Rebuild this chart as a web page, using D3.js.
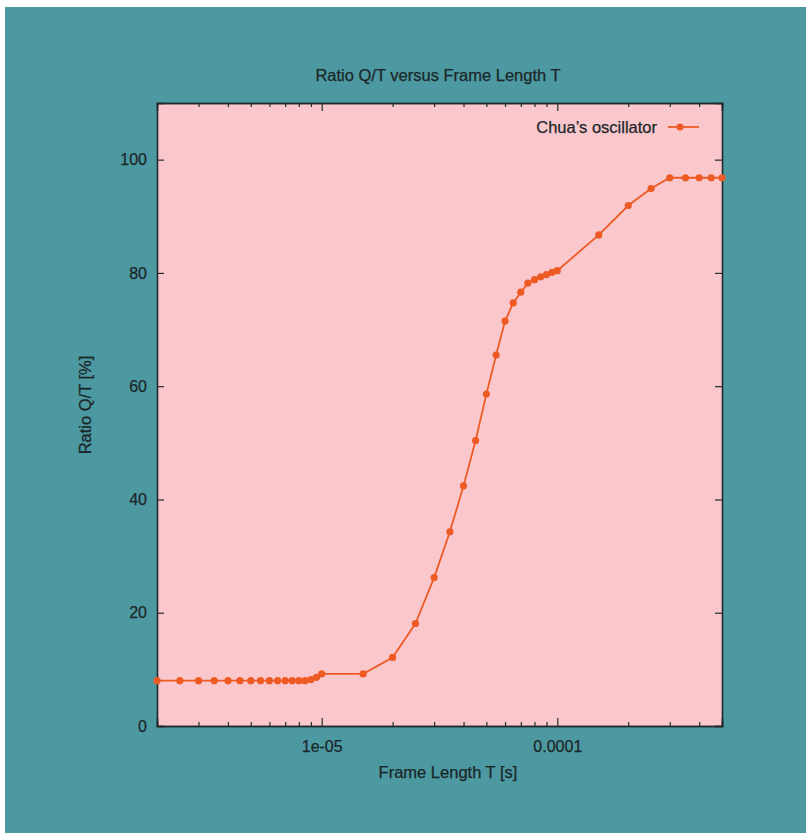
<!DOCTYPE html>
<html>
<head>
<meta charset="utf-8">
<script src="https://cdnjs.cloudflare.com/ajax/libs/d3/7.8.5/d3.min.js"></script>
<style>
	body { margin: 0; background: #ffffff; }
	text { font-family: "Liberation Sans", Arial, sans-serif; fill: #1c2628; stroke: #1c2628; stroke-width: 0.25px; }
</style>
</head>
<body onload="onLoad()">
<div></div>
<script>
var frameLengths = [
	2e-6, 2.5e-6, 3e-6, 3.5e-6, 4e-6, 4.5e-6, 5e-6, 5.5e-6, 6e-6, 6.5e-6,
	7e-6, 7.5e-6, 8e-6, 8.5e-6, 9e-6, 9.5e-6, 1e-5,
	1.5e-5, 2e-5, 2.5e-5, 3e-5, 3.5e-5, 4e-5, 4.5e-5, 5e-5, 5.5e-5, 6e-5,
	6.5e-5, 7e-5, 7.5e-5, 8e-5, 8.5e-5, 9e-5, 9.5e-5, 1e-4,
	1.5e-4, 2e-4, 2.5e-4, 3e-4, 3.5e-4, 4e-4, 4.5e-4, 5e-4
	];

var ratios = [
	8.0, 8.0, 8.0, 8.0, 8.0, 8.0, 8.0, 8.0, 8.0, 8.0,
	8.0, 8.0, 8.0, 8.0, 8.2, 8.6, 9.2,
	9.2, 12.1, 18.1, 26.2, 34.3, 42.4, 50.4, 58.6, 65.5, 71.5,
	74.7, 76.6, 78.2, 78.8, 79.3, 79.7, 80.1, 80.4,
	86.7, 91.9, 94.9, 96.8, 96.8, 96.8, 96.8, 96.8
	];

var xDomain = [2e-6, 5e-4],
	yDomain = [0, 110],
	yTicks = [0, 20, 40, 60, 80, 100],
	xMajorTicks = [1e-5, 1e-4],
	xTickLabels = ["1e-05", "0.0001"],
	xMinorTicks = [3e-6, 4e-6, 5e-6, 6e-6, 7e-6, 8e-6, 9e-6,
		2e-5, 3e-5, 4e-5, 5e-5, 6e-5, 7e-5, 8e-5, 9e-5,
		2e-4, 3e-4, 4e-4];

var chartTitle = "Ratio Q/T versus Frame Length T",
	xTitle = "Frame Length T [s]",
	yTitle = "Ratio Q/T [%]",
	seriesName = "Chua\u2019s oscillator";

var width = 807,
	height = 835,
	plotLeft = 157,
	plotRight = 722,
	plotTop = 103,
	plotBottom = 726,
	lineColor = "#ee5a24";

var svgContainer;

function onLoad() {
	svgContainer = d3.select("div")
	.append("svg")
	.attr("width", width)
	.attr("height", height);

	// scanned teal backdrop with a thin white margin
	svgContainer.append("rect")
	.attr("x", 5)
	.attr("y", 7)
	.attr("width", width - 6)
	.attr("height", height - 9)
	.style("fill", "#4c99a2");

	var x = d3.scaleLog().domain(xDomain).range([plotLeft, plotRight]);
	var y = d3.scaleLinear().domain(yDomain).range([plotBottom, plotTop]);

	svgContainer.append("rect")
	.attr("x", plotLeft)
	.attr("y", plotTop)
	.attr("width", plotRight - plotLeft)
	.attr("height", plotBottom - plotTop)
	.style("fill", "#fac8cc");

	drawAxes(x, y);
	drawSeries(x, y);
	drawLegend();
	drawTitles();
}

function drawAxes(x, y) {
	var axisColor = "#222a2c";

	// bottom and top, ticks pointing inward
	svgContainer.append("g")
	.attr("transform", "translate(0," + plotBottom + ")")
	.call(d3.axisBottom(x).tickValues(xMajorTicks).tickSize(-8).tickPadding(15).tickFormat(function(d, i) { return xTickLabels[i]; }))
	.call(styleAxis, axisColor);
	svgContainer.append("g")
	.attr("transform", "translate(0," + plotBottom + ")")
	.call(d3.axisBottom(x).tickValues(xMinorTicks).tickSize(-4).tickFormat(""))
	.call(styleAxis, axisColor);
	svgContainer.append("g")
	.attr("transform", "translate(0," + plotTop + ")")
	.call(d3.axisTop(x).tickValues(xMajorTicks).tickSize(-8).tickFormat(""))
	.call(styleAxis, axisColor);
	svgContainer.append("g")
	.attr("transform", "translate(0," + plotTop + ")")
	.call(d3.axisTop(x).tickValues(xMinorTicks).tickSize(-4).tickFormat(""))
	.call(styleAxis, axisColor);

	// left and right
	svgContainer.append("g")
	.attr("transform", "translate(" + plotLeft + ",0)")
	.call(d3.axisLeft(y).tickValues(yTicks).tickSize(-7).tickPadding(10).tickFormat(d3.format("d")))
	.call(styleAxis, axisColor);
	svgContainer.append("g")
	.attr("transform", "translate(" + plotRight + ",0)")
	.call(d3.axisRight(y).tickValues(yTicks).tickSize(-7).tickFormat(""))
	.call(styleAxis, axisColor);

	svgContainer.selectAll(".tick text")
	.style("font-size", "16px")
	.style("fill", "#1c2628");
}

function styleAxis(g, color) {
	g.select(".domain").attr("stroke", color).attr("stroke-width", 1.6);
	g.selectAll(".tick line").attr("stroke", color).attr("stroke-width", 1.2);
	g.attr("font-family", null);
}

function drawSeries(x, y) {
	var points = frameLengths.map(function(t, i) {
		return [t, ratios[i]];
	});

	var line = d3.line()
	.x(function(d) { return x(d[0]); })
	.y(function(d) { return y(d[1]); });

	svgContainer.append("path")
	.datum(points)
	.attr("d", line)
	.style("fill", "none")
	.style("stroke", lineColor)
	.style("stroke-width", 1.8);

	points.forEach(function(point) {
		svgContainer.append("circle")
		.attr("cx", x(point[0]))
		.attr("cy", y(point[1]))
		.attr("r", 3.6)
		.style("fill", lineColor);
	});
}

function drawLegend() {
	svgContainer.append("text")
	.attr("x", 657)
	.attr("y", 133)
	.attr("text-anchor", "end")
	.style("font-size", "16.5px")
	.text(seriesName);

	svgContainer.append("line")
	.attr("x1", 668)
	.attr("x2", 699)
	.attr("y1", 127)
	.attr("y2", 127)
	.style("stroke", lineColor)
	.style("stroke-width", 1.8);

	svgContainer.append("circle")
	.attr("cx", 680)
	.attr("cy", 127)
	.attr("r", 3.6)
	.style("fill", lineColor);
}

function drawTitles() {
	svgContainer.append("text")
	.attr("x", 438)
	.attr("y", 81)
	.attr("text-anchor", "middle")
	.style("font-size", "16.5px")
	.text(chartTitle);

	svgContainer.append("text")
	.attr("x", 448)
	.attr("y", 778)
	.attr("text-anchor", "middle")
	.style("font-size", "16.5px")
	.text(xTitle);

	svgContainer.append("text")
	.attr("transform", "translate(91,405) rotate(-90)")
	.attr("text-anchor", "middle")
	.style("font-size", "16.5px")
	.text(yTitle);
}
</script>
</body>
</html>
